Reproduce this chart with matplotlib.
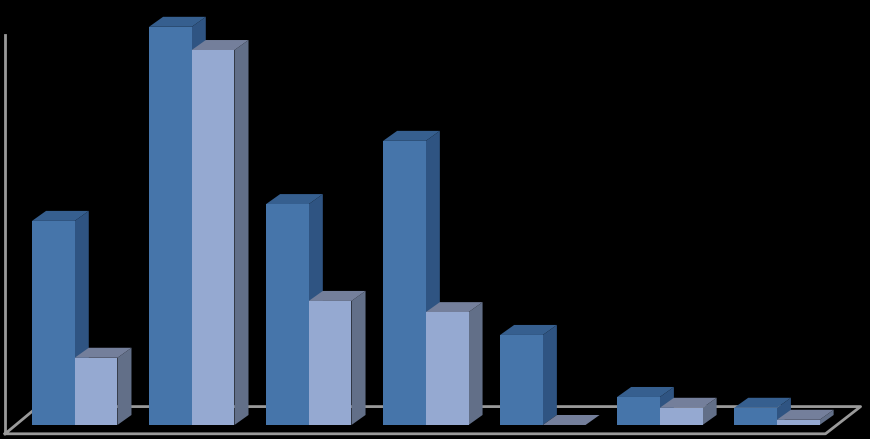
import matplotlib
matplotlib.use("Agg")
import matplotlib.pyplot as plt
from matplotlib.patches import Polygon

# values, no labels in the original
series_a = [51, 99.5, 55.2, 71, 22.5, 7, 4.3]
series_b = [16.8, 93.7, 31, 28.2, 0, 4.3, 1.3]

BAR_W = 0.365
DEPTH_X = 0.12
DEPTH_Y = 2.5
DARK = ("#4675aa", "#365f8f", "#2f5482")
LIGHT = ("#95a9d1", "#747f9b", "#626f88")
GREY = "#9a9a9a"


def draw_bar(ax, x, value, colors, z):
    front, top, side = colors
    ax.bar(x, value, BAR_W, align="edge", color=front, linewidth=0, zorder=z + 0.2)
    right = x + BAR_W
    ax.add_patch(Polygon(
        [(right, 0), (right + DEPTH_X, DEPTH_Y), (right + DEPTH_X, value + DEPTH_Y), (right, value)],
        facecolor=side, edgecolor="none", zorder=z + 0.1))
    ax.add_patch(Polygon(
        [(x, value), (x + DEPTH_X, value + DEPTH_Y), (right + DEPTH_X, value + DEPTH_Y), (right, value)],
        facecolor=top, edgecolor="none", zorder=z + 0.1))


def plot_bars():
    # a hair over 8.7 in, otherwise the float product truncates to 869 px
    fig = plt.figure(figsize=(8.702, 4.392), dpi=100, facecolor="black")
    ax = fig.add_axes([0, 0, 1, 1])
    ax.set_facecolor("black")
    # 117 px per category, 4 px per value unit
    ax.set_xlim(-32 / 117, (870 - 32) / 117)
    ax.set_ylim(-14 / 4, 425 / 4)
    ax.axis("off")

    # floor and wall
    ax.plot([-0.23, -0.23], [-2, 97.5], color=GREY, lw=2, zorder=1)
    ax.plot([-0.23, 6.78, 7.08, 0.05, -0.23], [-2.2, -2.2, 4.6, 4.6, -2.2], color=GREY, lw=2, zorder=1)

    for i, (a, b) in enumerate(zip(series_a, series_b)):
        draw_bar(ax, i, a, DARK, 2 + i)
        draw_bar(ax, i + BAR_W, b, LIGHT, 2.5 + i)

    fig.savefig("out.png", dpi=100, facecolor="black")


if __name__ == "__main__":
    plot_bars()
